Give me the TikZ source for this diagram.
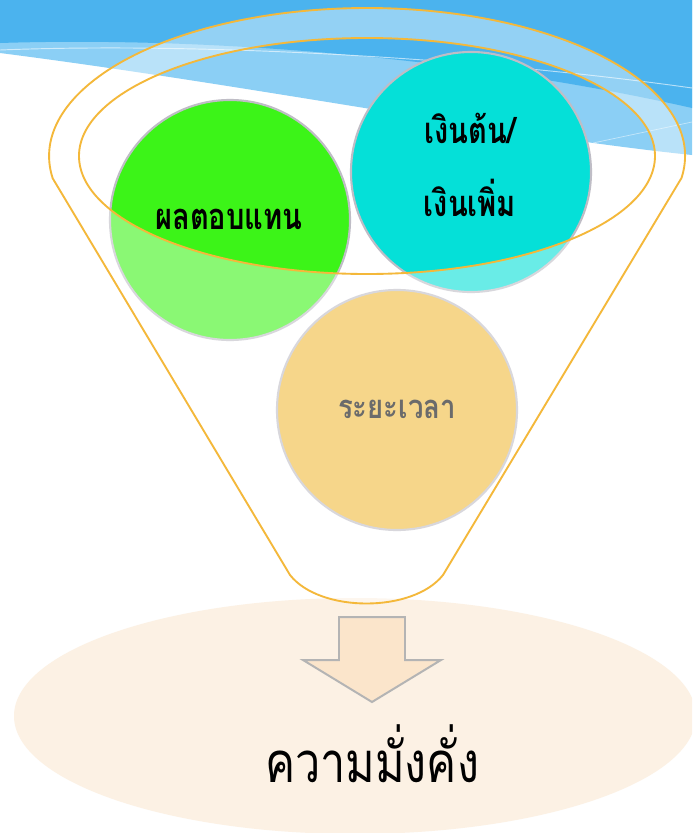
\documentclass[tikz,border=0pt]{standalone}
\usepackage{fontspec}
\newfontfamily\thaifont[Script=Thai]{Loma}
\definecolor{skydark}{HTML}{4BB3EE}
\definecolor{skylight}{HTML}{8BCFF5}
\definecolor{funnelline}{HTML}{F4B83A}
\definecolor{bubbleedge}{HTML}{BFBDC6}
\definecolor{retgreen}{HTML}{3CF418}
\definecolor{princyan}{HTML}{05E0D8}
\definecolor{timeorange}{HTML}{F0BB3C}
\definecolor{wealthpeach}{HTML}{FCF1E4}
\definecolor{arrowfill}{HTML}{FBE5CB}
\definecolor{arrowedge}{HTML}{B4B4B4}
\definecolor{timegray}{HTML}{6B6B6B}

\begin{document}
\begin{tikzpicture}[x=0.03cm, y=0.03cm,
    bubble/.style={circle, draw=bubbleedge, line width=1.8pt, minimum size=7.2cm, inner sep=0pt},
    lbl/.style={font=\thaifont\bfseries\fontsize{31}{34}\selectfont, xscale=0.8, anchor=base}]
    \useasboundingbox (0,0) rectangle (692,-833);
    \clip (0,0) rectangle (692,-833);

    % Sky band at the top
    \fill[white] (0,0) rectangle (692,-833);
    \fill[skylight] (0,0) -- (0,-53) .. controls (250,-85) and (500,-135) .. (692,-155) -- (692,0) -- cycle;
    \fill[skydark] (0,0) -- (0,-43) .. controls (220,-36) and (480,-60) .. (692,-108) -- (692,0) -- cycle;
    \draw[white, opacity=.6, line width=.8pt] (0,-50) .. controls (200,-42) and (480,-58) .. (692,-88);
    \draw[white, opacity=.5, line width=.6pt] (593,-143) -- (692,-122);

    % Peach ellipse at the bottom
    \fill[wealthpeach] (355,-716) ellipse [x radius=341, y radius=118];

    % The three bubbles
    \node[bubble, fill=retgreen] (ret) at (230,-220) {};
    \node[bubble, fill=princyan] (princ) at (471,-172) {};
    \node[bubble, fill=timeorange] (time) at (397,-410) {};

    % Funnel body, seen through
    \coordinate (fl) at (52.5,-178);
    \coordinate (fr) at (681.5,-178);
    \coordinate (bl) at (290,-575);
    \coordinate (br) at (443,-575);
    \fill[white, fill opacity=.4, even odd rule] (fl) -- (bl) .. controls (320,-613) and (413,-613) .. (br) -- (fr)
        arc[start angle=-8.55, end angle=188.55, x radius=318, y radius=148] -- cycle
        (367,-156) ellipse [x radius=288, y radius=118];
    \draw[funnelline, line width=1.6pt, line join=round] (fl) -- (bl) .. controls (320,-613) and (413,-613) .. (br) -- (fr)
        arc[start angle=-8.55, end angle=188.55, x radius=318, y radius=148] -- cycle;
    \draw[funnelline, line width=1.6pt] (367,-156) ellipse [x radius=288, y radius=118];

    % Labels of the bubbles
    \node[lbl] (retlbl) at (229,-229) {ผลตอบแทน};
    \node[lbl] (princlbl) at (470,-143) {เงินต้น/};
    \node[lbl] (princlbltwo) at (470,-216) {เงินเพิ่ม};
    \node[lbl, text=timegray, font=\thaifont\bfseries\fontsize{28}{34}\selectfont, xscale=1.05] (timelbl) at (397,-418) {ระยะเวลา};

    % Block arrow down
    \draw[arrowedge, fill=arrowfill, line width=1.7pt] (339,-617) -- (405,-617) -- (405,-660) -- (441,-660)
        -- (372,-702) -- (303,-660) -- (339,-660) -- cycle;

    % Result
    \node[anchor=base, font=\thaifont\fontsize{48}{50}\selectfont, xscale=0.8] (wealth) at (372,-782) {ความมั่งคั่ง};
\end{tikzpicture}
\end{document}
